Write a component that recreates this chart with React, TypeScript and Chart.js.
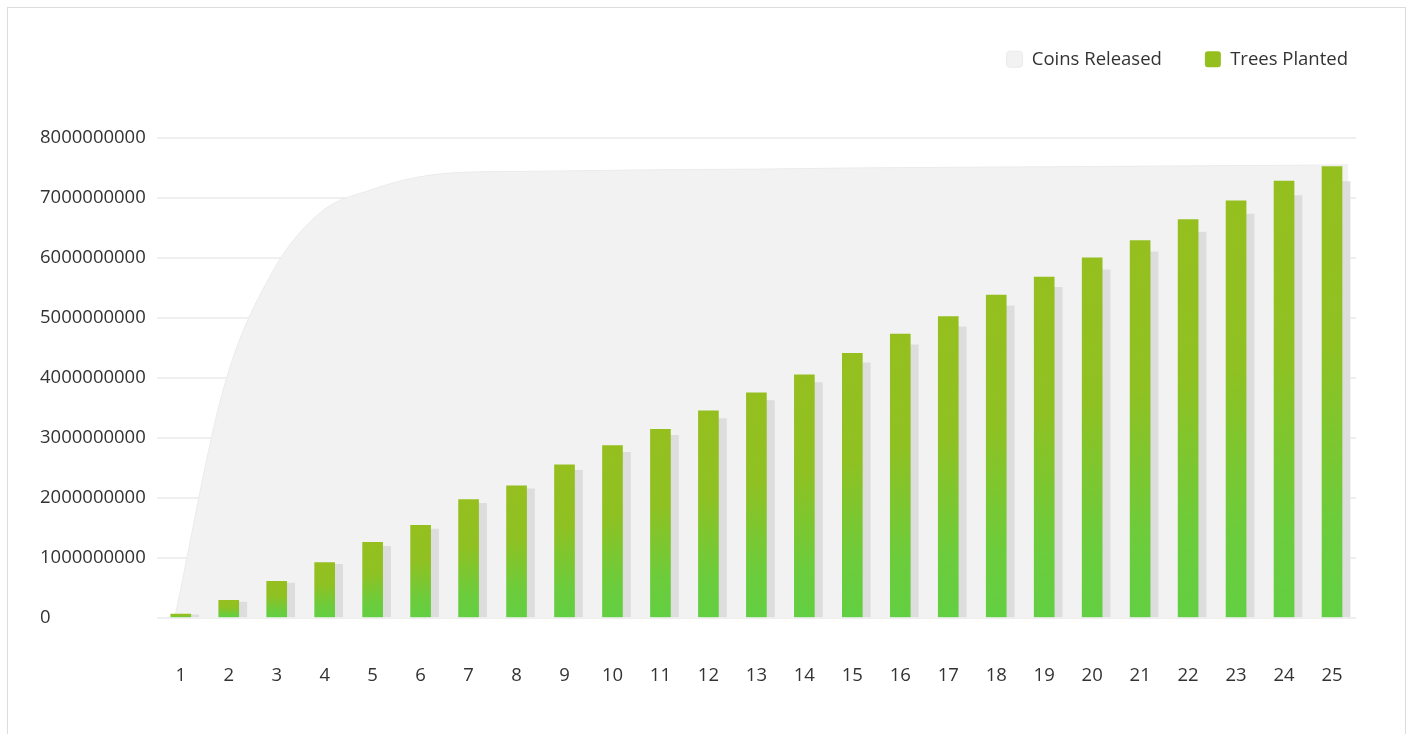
import React, { useEffect, useRef } from "react";
import { Chart, registerables } from "chart.js";

Chart.register(...registerables);

// ---- data ----
const years = ["1","2","3","4","5","6","7","8","9","10","11","12","13","14","15","16","17","18","19","20","21","22","23","24","25"];

const treesPlanted = [
  60000000, 290000000, 610000000, 920000000, 1260000000, 1540000000, 1970000000, 2200000000,
  2550000000, 2870000000, 3140000000, 3450000000, 3750000000, 4050000000, 4410000000, 4730000000,
  5020000000, 5380000000, 5680000000, 6000000000, 6290000000, 6640000000, 6950000000, 7280000000,
  7520000000,
];

const treesShadow = [
  50000000, 260000000, 580000000, 890000000, 1190000000, 1480000000, 1910000000, 2150000000,
  2460000000, 2760000000, 3040000000, 3320000000, 3620000000, 3920000000, 4250000000, 4550000000,
  4850000000, 5200000000, 5510000000, 5800000000, 6100000000, 6430000000, 6730000000, 7040000000,
  7270000000,
];

const coinsReleased = [
  0, 3830000000, 5770000000, 6770000000, 7130000000, 7350000000, 7430000000, 7440000000,
  7450000000, 7460000000, 7470000000, 7475000000, 7480000000, 7490000000, 7500000000, 7505000000,
  7510000000, 7515000000, 7520000000, 7525000000, 7530000000, 7535000000, 7540000000, 7545000000,
  7550000000,
];

const yTicks = [0, 1000000000, 2000000000, 3000000000, 4000000000, 5000000000, 6000000000, 7000000000, 8000000000];

const FONT = "'Open Sans', 'Noto Sans', sans-serif";
const TEXT = "#333333";
const FS = 18.5;

export default function App() {
  const ref = useRef<HTMLCanvasElement | null>(null);

  useEffect(() => {
    if (!ref.current) return;

    const shiftPlugin = {
      id: "shadowShift",
      beforeDatasetDraw(chart: any, args: any) {
        if (chart.data.datasets[args.index].label === "shadow") {
          chart.ctx.save();
          chart.ctx.translate(8, 0);
        }
      },
      afterDatasetDraw(chart: any, args: any) {
        if (chart.data.datasets[args.index].label === "shadow") {
          chart.ctx.restore();
        }
      },
    };

    const greenFill = (c: any) => {
      const chart = c.chart;
      if (!chart.chartArea || c.dataIndex === undefined) return "#8fc01f";
      const ys = chart.scales.y;
      const top = ys.getPixelForValue(treesPlanted[c.dataIndex]);
      const base = ys.getPixelForValue(0);
      if (!isFinite(top) || !isFinite(base) || base - top < 1) return "#8fc01f";
      const g = chart.ctx.createLinearGradient(0, top, 0, base);
      g.addColorStop(0, "#95bf1f");
      g.addColorStop(0.4, "#8fc122");
      g.addColorStop(0.8, "#6ccc3c");
      g.addColorStop(1, "#62cf42");
      return g;
    };

    const chart = new Chart(ref.current, {
      type: "bar",
      data: {
        labels: years,
        datasets: [
          {
            type: "line",
            label: "Coins Released",
            data: coinsReleased.map((v, i) => ({ x: i, y: v })),
            xAxisID: "xArea",
            yAxisID: "y",
            fill: "origin",
            backgroundColor: "#f2f2f2",
            borderColor: "#ebebeb",
            borderWidth: 1,
            pointRadius: 0,
            cubicInterpolationMode: "monotone",
            order: 3,
          } as any,
          {
            type: "bar",
            label: "Trees Planted",
            data: treesPlanted,
            xAxisID: "x",
            backgroundColor: greenFill,
            borderWidth: 0,
            barThickness: 20,
            grouped: false,
            order: 1,
          } as any,
          {
            type: "bar",
            label: "shadow",
            data: treesShadow,
            xAxisID: "x",
            backgroundColor: "#dddddd",
            borderWidth: 0,
            barThickness: 20,
            grouped: false,
            order: 2,
          } as any,
        ],
      },
      options: {
        animation: false,
        responsive: true,
        maintainAspectRatio: false,
        layout: { padding: { top: 7, left: 40, right: 19, bottom: 1 } },
        font: { family: FONT },
        plugins: {
          legend: {
            position: "top",
            align: "end",
            labels: {
              font: { family: FONT, size: FS },
              color: TEXT,
              boxWidth: 16,
              boxHeight: 16,
              padding: 43,
              useBorderRadius: true,
              borderRadius: 3,
              filter: (item: any) => item.text !== "shadow",
              sort: (a: any, b: any) => a.datasetIndex - b.datasetIndex,
            },
          },
          title: {
            display: true,
            text: "",
            weight: 500,
            font: { size: 10 },
            padding: { top: 0, bottom: 47.4 },
          } as any,
          tooltip: { enabled: false },
        },
        scales: {
          x: {
            type: "category",
            offset: true,
            grid: { display: false, drawTicks: false },
            border: { display: false },
            ticks: { font: { family: FONT, size: FS }, color: TEXT, padding: 46.5, maxRotation: 0 },
          },
          xArea: {
            type: "linear",
            display: false,
            offset: false,
            min: -0.368,
            max: 24.164,
          },
          y: {
            min: 0,
            max: 8000000000,
            afterBuildTicks: (s: any) => {
              s.ticks = yTicks.map((v) => ({ value: v }));
            },
            grid: { color: "#efefef", lineWidth: 2, drawTicks: false },
            border: { display: false },
            ticks: {
              font: { family: FONT, size: FS },
              color: TEXT,
              padding: 5.5,
              crossAlign: "far",
              callback: (v: any) => String(v),
            },
          },
          ySpacer: {
            position: "right",
            display: true,
            grid: { display: false, drawTicks: false },
            border: { display: false },
            ticks: { display: false },
            afterFit: (s: any) => {
              s.width = 35;
            },
          },
        },
      } as any,
      plugins: [shiftPlugin],
    });

    return () => chart.destroy();
  }, []);

  return (
    <div style={{ position: "fixed", left: 0, top: 0, width: 1410, height: 734, overflow: "hidden", background: "#fff" }}>
      <div
        style={{
          position: "absolute",
          left: 7,
          top: 7,
          width: 1399,
          height: 800,
          border: "1px solid #dcdcdc",
          boxSizing: "border-box",
        }}
      />
      <div style={{ position: "absolute", left: 0, top: 0, width: 1410, height: 734 }}>
        <canvas ref={ref} />
      </div>
    </div>
  );
}
